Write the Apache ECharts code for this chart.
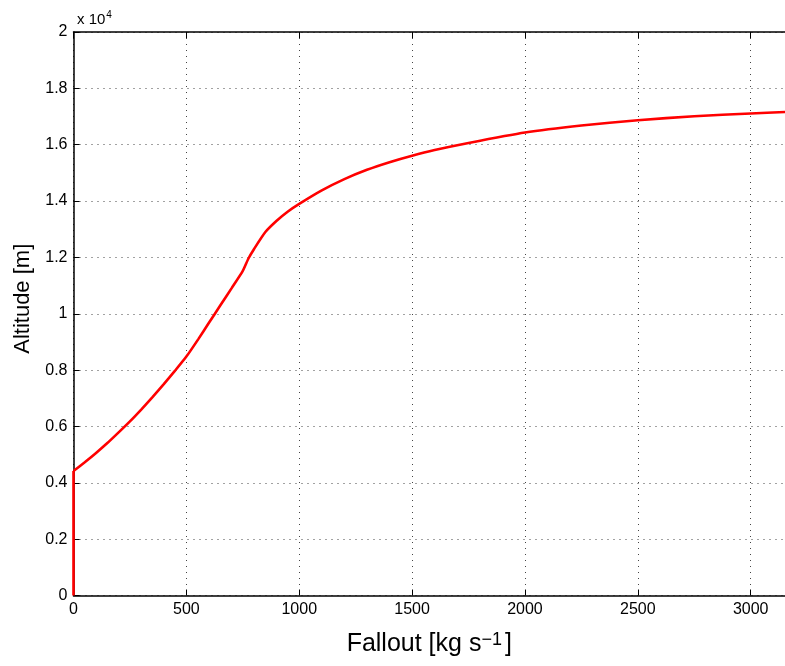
<!DOCTYPE html>
<html>
<head>
<meta charset="utf-8">
<script src="https://cdn.jsdelivr.net/npm/echarts@6/dist/echarts.min.js"></script>
<style>
  html, body { margin: 0; padding: 0; background: #fff; }
  #chart { width: 785px; height: 666px; }
</style>
</head>
<body>
<div id="chart"></div>
<script>
// fallout rate [kg/s] and altitude [m]
const fallout = [0, 0, 50, 100, 150, 200, 250, 300, 350, 400, 450, 500, 553, 600, 650, 700, 750, 775, 800, 850, 900, 950, 1000, 1100, 1200, 1300, 1400, 1500, 1600, 1750, 2000, 2250, 2500, 2750, 3000, 3152];
const altitude = [0, 4416, 4730, 5060, 5410, 5790, 6180, 6600, 7040, 7500, 7980, 8480, 9100, 9680, 10290, 10900, 11520, 11960, 12300, 12900, 13300, 13630, 13900, 14380, 14780, 15110, 15380, 15610, 15810, 16060, 16430, 16680, 16870, 17010, 17110, 17160];

const xTicks = [0, 500, 1000, 1500, 2000, 2500, 3000];
const yTicks = [0, 2000, 4000, 6000, 8000, 10000, 12000, 14000, 16000, 18000, 20000];

const chart = echarts.init(document.getElementById('chart'));

const font = 'Liberation Sans, Arial, sans-serif';
const gridDots = { color: '#444', width: 1, type: [1, 5] };
const points = fallout.map((x, i) => [x, altitude[i]]);
const redLine = { color: '#ff0000', width: 2.6 };

chart.setOption({
  animation: false,
  textStyle: { fontFamily: font },
  title: {
    left: 72,
    top: 5,
    text: '{a|x 10}{b|4}',
    textStyle: {
      fontWeight: 'normal',
      rich: {
        a: { fontSize: 15, color: '#000', fontFamily: font, fontWeight: 'normal' },
        b: { fontSize: 10, color: '#000', fontFamily: font, fontWeight: 'normal', verticalAlign: 'top', padding: [0, 0, 9, 1] }
      }
    }
  },
  grid: { left: 73.5, right: 0, top: 32, bottom: 70.5 },
  xAxis: [{
    type: 'value',
    min: 0,
    max: fallout[fallout.length - 1],
    interval: xTicks[1] - xTicks[0],
    axisLine: { lineStyle: { color: '#000', width: 1.5 } },
    axisTick: { inside: true, length: 6, lineStyle: { color: '#000' } },
    axisLabel: { color: '#000', fontSize: 16, margin: 6, showMaxLabel: false, formatter: v => String(v) },
    splitLine: { show: true, lineStyle: gridDots, showMaxLine: false },
    name: 'Fallout [kg s{sup|−1}]',
    nameLocation: 'middle',
    nameGap: 36,
    nameTextStyle: {
      color: '#000', fontSize: 25, fontFamily: font,
      rich: { sup: { fontSize: 18, color: '#000', verticalAlign: 'top', padding: [0, 3, 8, 0] } }
    }
  }, {
    type: 'value',
    position: 'top',
    min: 0,
    max: fallout[fallout.length - 1],
    interval: 500,
    axisLine: { show: true, onZero: false, lineStyle: { color: '#000', width: 1.5 } },
    axisTick: { inside: true, length: 6, lineStyle: { color: '#000' } },
    axisLabel: { show: false },
    splitLine: { show: false }
  }],
  yAxis: {
    type: 'value',
    min: 0,
    max: yTicks[yTicks.length - 1],
    interval: yTicks[1] - yTicks[0],
    axisLine: { show: true, lineStyle: { color: '#000', width: 1.5 } },
    axisTick: { show: true, inside: true, length: 6, lineStyle: { color: '#000' } },
    axisLabel: {
      color: '#000', fontSize: 16, margin: 6,
      formatter: v => String(Math.round(v / 1000) / 10)
    },
    splitLine: { show: true, lineStyle: gridDots },
    name: 'Altitude [m]',
    nameLocation: 'middle',
    nameGap: 37,
    nameTextStyle: { color: '#000', fontSize: 22, fontFamily: font, padding: [0, 0, 0, 30] }
  },
  series: [{
    // vertical part at zero fallout
    type: 'line',
    data: points.slice(0, 2),
    showSymbol: false,
    lineStyle: redLine
  }, {
    type: 'line',
    data: points.slice(1),
    showSymbol: false,
    smooth: 0.2,
    lineStyle: redLine
  }]
});
</script>
</body>
</html>
